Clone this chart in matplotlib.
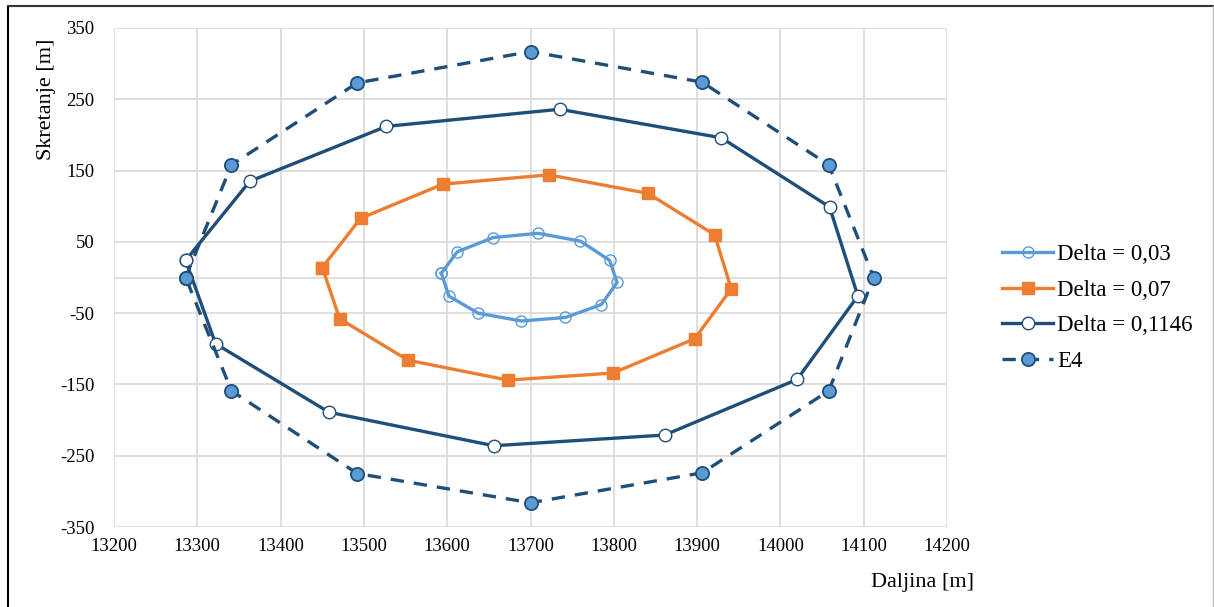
import matplotlib
matplotlib.use("Agg")
import matplotlib.pyplot as plt
from matplotlib.lines import Line2D

# Delta = 0,03 (inner loop)
d03_x = [13593, 13612, 13655, 13709, 13760, 13795, 13804, 13785, 13742, 13689, 13637, 13602]
d03_y = [6, 36, 56, 62, 51, 24, -7, -38, -56, -61, -50, -26]

# Delta = 0,07
d07_x = [13450, 13496, 13595, 13722, 13841, 13921, 13941, 13897, 13799, 13673, 13553, 13471]
d07_y = [14, 83, 131, 144, 118, 60, -16, -86, -134, -144, -116, -58]

# Delta = 0,1146
d11_x = [13286, 13363, 13527, 13735, 13929, 14059, 14093, 14020, 13861, 13656, 13458, 13322]
d11_y = [24, 135, 212, 236, 196, 99, -26, -143, -221, -236, -189, -93]

# E4
e4_x = [13286, 13341, 13492, 13700, 13906, 14058, 14112, 14058, 13906, 13700, 13492, 13341]
e4_y = [0, 158, 273, 317, 274, 158, 0, -159, -274, -316, -275, -159]

x_ticks = [13200, 13300, 13400, 13500, 13600, 13700, 13800, 13900, 14000, 14100, 14200]
y_ticks = [-350, -250, -150, -50, 50, 150, 250, 350]

LIGHT = '#5B9BD5'
ORANGE = '#ED7D31'
NAVY = '#1F4E79'

def closed(xs, ys):
    return list(xs) + [xs[0]], list(ys) + [ys[0]]

plt.rcParams['font.family'] = ['Liberation Serif', 'DejaVu Serif']
plt.rcParams['axes.unicode_minus'] = False

fig = plt.figure(figsize=(12.14, 6.07), dpi=100)
ax = fig.add_axes([114 / 1214, 1 - 527 / 607, (947 - 114) / 1214, (527 - 28) / 607])

x, y = closed(d03_x, d03_y)
ax.plot(x, y, color=LIGHT, lw=2.4, marker='o', ms=8, mfc='none', mec=LIGHT, mew=1.0,
        label='Delta = 0,03', zorder=3)

x, y = closed(d07_x, d07_y)
ax.plot(x, y, color=ORANGE, lw=2.4, marker='s', ms=9, mfc=ORANGE, mec=ORANGE,
        label='Delta = 0,07', zorder=3)

x, y = closed(d11_x, d11_y)
ax.plot(x, y, color=NAVY, lw=2.4, marker='o', ms=9, mfc='white', mec=NAVY, mew=1.0,
        label='Delta = 0,1146', zorder=4)

x, y = closed(e4_x, e4_y)
ax.plot(x, y, color=NAVY, lw=2.4, ls=(0, (4, 3)), marker='o', ms=9.5, mfc=LIGHT, mec=NAVY,
        mew=1.3, label='E4', zorder=5)

ax.set_xlim(13200, 14200)
ax.set_ylim(-350, 350)
ax.set_xticks(x_ticks)
ax.set_yticks(y_ticks)
ax.grid(True, color='#D9D9D9', lw=1.2, zorder=0)
ax.axhline(0, color='#D9D9D9', lw=1.2, zorder=0)
for s in ax.spines.values():
    s.set_visible(False)
ax.tick_params(length=0, labelsize=13.5, pad=8)
ax.tick_params(axis='y', pad=14)

fig.text(46 / 1214, 1 - 99 / 607, 'Skretanje [m]', rotation=90, ha='center', va='center',
         fontsize=16)
fig.text(974 / 1214, 1 - 583 / 607, 'Daljina [m]', ha='right', va='center', fontsize=16)

handles, labels = ax.get_legend_handles_labels()
fig.legend(handles, labels, loc='center left', bbox_to_anchor=(991 / 1214, 1 - 308 / 607),
           frameon=False, fontsize=16.5, handlelength=2.2, handletextpad=0.2,
           labelspacing=0.65, borderpad=0)

# outer frame of the picture
fig.add_artist(Line2D([8 / 1214, 8 / 1214], [0, 1 - 6 / 607], color='black', lw=1.5))
fig.add_artist(Line2D([8 / 1214, 1], [1 - 6 / 607, 1 - 6 / 607], color='#333333', lw=1.5))
fig.add_artist(Line2D([1213 / 1214, 1213 / 1214], [0, 1 - 6 / 607], color='#BBBBBB', lw=1))

fig.savefig('out.png', dpi=100)
